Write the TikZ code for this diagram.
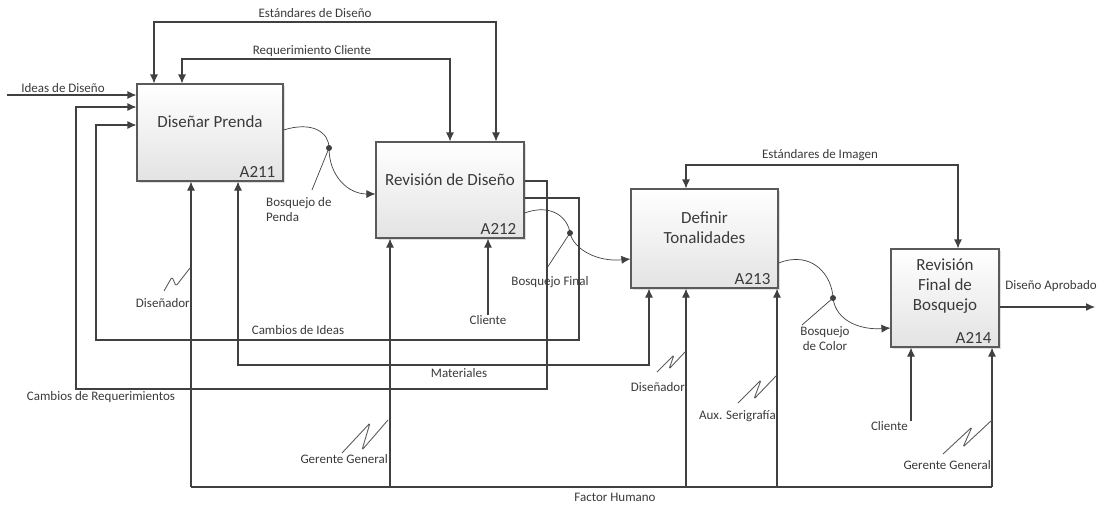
\documentclass[tikz,border=0pt]{standalone}
\usepackage{fontspec}
\setmainfont{Carlito}
\usetikzlibrary{arrows.meta,shadows,calc}
\definecolor{ln}{HTML}{404040}
\definecolor{bd}{HTML}{5A5A5A}
\definecolor{tx}{HTML}{3A3A3A}
\tikzset{
 box/.style={draw=bd, line width=1.1pt, top color=white, bottom color=gray!22,
   drop shadow={opacity=0.25,shadow xshift=1.5pt,shadow yshift=-1.5pt}, inner sep=0pt},
 ttl/.style={font=\fontsize{17}{20}\selectfont, text=tx, align=center, inner sep=0pt},
 lbl/.style={font=\fontsize{13}{15}\selectfont, text=tx, inner sep=0pt},
 wire/.style={draw=ln, line width=1.1pt},
 arr/.style={wire, -{Latex[length=9pt,width=8pt]}},
 arrb/.style={wire, {Latex[length=9pt,width=8pt]}-{Latex[length=9pt,width=8pt]}},
 thinline/.style={draw=ln, line width=0.7pt},
 squigline/.style={draw=ln!85, line width=0.9pt, rounded corners=1.5pt},
 dotn/.style={circle, fill=ln, inner sep=0pt, minimum size=6pt},
}
\begin{document}
\begin{tikzpicture}[x=1pt,y=-1pt]
\useasboundingbox (0,0) rectangle (1104,504);

% boxes
\node[box, minimum width=146pt, minimum height=97pt] (A211) at (210,132.5) {};
\node[box, minimum width=148pt, minimum height=96pt] (A212) at (450,190) {};
\node[box, minimum width=147pt, minimum height=99pt] (A213) at (704.5,238.5) {};
\node[box, minimum width=108pt, minimum height=98pt] (A214) at (945,298) {};

\node[ttl] (t211) at ($(A211.north)+(0,38)$) {Diseñar Prenda};
\node[ttl] (t212) at ($(A212.north)+(0,38)$) {Revisión de Diseño};
\node[ttl] (t213) at ($(A213.north)+(0,39)$) {Definir\\Tonalidades};
\node[ttl] (t214) at ($(A214.north)+(0,38)$) {Revisión\\Final de\\Bosquejo};
\node[ttl, anchor=east] (n211) at ($(A211.south east)+(-8,-10)$) {A211};
\node[ttl, anchor=east] (n212) at ($(A212.south east)+(-8,-10)$) {A212};
\node[ttl, anchor=east] (n213) at ($(A213.south east)+(-8,-10)$) {A213};
\node[ttl, anchor=east] (n214) at ($(A214.south east)+(-8,-10)$) {A214};

% coordinates
\coordinate (esd1) at (154,22);  \coordinate (esd2) at (496,22);
\coordinate (rc1) at (182,59);   \coordinate (rc2) at (450,59);
\coordinate (ideas) at (7,95);
\coordinate (cr0) at (547,181); \coordinate (cr1) at (547,389);
\coordinate (cr2) at (76,389);  \coordinate (cr3) at (76,107);
\coordinate (ci0) at (579,198); \coordinate (ci1) at (579,340);
\coordinate (ci2) at (96,340);  \coordinate (ci3) at (96,125);
\coordinate (m1) at (238,365);  \coordinate (m2) at (649,365);
\coordinate (fh1) at (191,487); \coordinate (fh2) at (390,487);
\coordinate (fh3) at (686,487); \coordinate (fh4) at (777,487);
\coordinate (fh5) at (992,487);
\coordinate (ei1) at (686,165); \coordinate (ei2) at (958,165);
\coordinate (c2) at (911,421);
\coordinate (out) at (1095,307);

% controls
\draw[arrb] (A211.north -| esd1) -- (esd1) -- (esd2) -- (A212.north -| esd2);
\draw[arrb] (A211.north -| rc1) -- (rc1) -- (rc2) -- (A212.north -| rc2);
\draw[arrb] (A213.north -| ei1) -- (ei1) -- (ei2) -- (A214.north -| ei2);
\node[lbl] (lesd) at (315,13) {Estándares de Diseño};
\node[lbl] (lrc) at (312,51) {Requerimiento Cliente};
\node[lbl] (lei) at (820,155) {Estándares de Imagen};

% inputs / feedback
\draw[arr] (ideas) -- (A211.west |- ideas);
\node[lbl] (lideas) at (63,88) {Ideas de Diseño};
\draw[arr] (A212.east |- cr0) -- (cr0) -- (cr1) -- (cr2) -- (cr3) -- (A211.west |- cr3);
\draw[arr] (A212.east |- ci0) -- (ci0) -- (ci1) -- (ci2) -- (ci3) -- (A211.west |- ci3);
\node[lbl] (lcr) at (101,397) {Cambios de Requerimientos};
\node[lbl] (lci) at (298,330) {Cambios de Ideas};
\draw[arrb] (A211.south -| m1) -- (m1) -- (m2) -- (A213.south -| m2);
\node[lbl] (lmat) at (459,373) {Materiales};

% factor humano
\draw[wire] (fh1) -- (fh5);
\draw[arr] (fh1) -- (A211.south -| fh1);
\draw[arr] (fh2) -- (A212.south -| fh2);
\draw[arr] (fh3) -- (A213.south -| fh3);
\draw[arr] (fh4) -- (A213.south -| fh4);
\draw[arr] (fh5) -- (A214.south -| fh5);
\node[lbl] (lfh) at (615,497) {Factor Humano};

% clientes
\node[lbl] (cli1) at (488,320) {Cliente};
\draw[arr] (cli1.north) -- (A212.south -| cli1.north);
\node[lbl, anchor=east] (cli2) at (908,426) {Cliente};
\draw[arr] (c2) -- (A214.south -| c2);

% output
\draw[arr] (A214.east |- out) -- (out);
\node[lbl] (lout) at (1051,286) {Diseño Aprobado};

% curved outputs with dots
\node[dotn] (d1) at (329,148) {};
\node[dotn] (d2) at (570,233) {};
\node[dotn] (d3) at (833,298) {};
\coordinate (s1) at (283,130); \coordinate (e1) at (376,194);
\coordinate (s2) at (524,213); \coordinate (e2) at (631,259);
\coordinate (s3) at (778,263); \coordinate (e3) at (891,328);
\draw[thinline] (A211.east |- s1) .. controls (312,121) and (329,132) .. (d1.center);
\draw[thinline, -{Latex[length=9pt,width=8pt]}] (d1.center) .. controls (329,176) and (348,194) .. (A212.west |- e1);
\draw[thinline] (A212.east |- s2) .. controls (552,203) and (568,218) .. (d2.center);
\draw[thinline, -{Latex[length=9pt,width=8pt]}] (d2.center) .. controls (574,250) and (598,262) .. (A213.west |- e2);
\draw[thinline] (A213.east |- s3) .. controls (812,250) and (832,275) .. (d3.center);
\draw[thinline, -{Latex[length=9pt,width=8pt]}] (d3.center) .. controls (836,322) and (862,330) .. (A214.west |- e3);
\coordinate (l1) at (312,190); \coordinate (l2) at (547,268); \coordinate (l3) at (802,325);
\draw[thinline] (d1.center) -- (l1);
\draw[thinline] (d2.center) -- (l2);
\draw[thinline] (d3.center) -- (l3);
\node[lbl, anchor=north west, align=left] (lbp) at (266,197) {Bosquejo de\\Penda};
\node[lbl] (lbf) at (550,282) {Bosquejo Final};
\node[lbl, align=center] (lbc) at (825,339) {Bosquejo\\de Color};

% mechanism labels and squiggles
\draw[squigline] (164,291) -- (172,277) -- (176,286) -- (190,268);
\node[lbl, anchor=east] (mdis1) at (190,303) {Diseñador};
\draw[squigline] (342,453) -- (370,423) -- (362,450) -- (388,420);
\node[lbl, anchor=east] (mger1) at (388,459) {Gerente General};
\draw[squigline] (657,372) -- (674,355) -- (669,369) -- (685,352);
\node[lbl, anchor=east] (mdis2) at (685,387) {Diseñador};
\draw[squigline] (738,403) -- (761,380) -- (754,399) -- (776,376);
\node[lbl, anchor=east] (maux) at (776,416) {Aux. Serigrafía};
\draw[squigline] (943,454) -- (972,427) -- (963,447) -- (992,420);
\node[lbl, anchor=east] (mger2) at (991,465) {Gerente General};
\end{tikzpicture}
\end{document}
